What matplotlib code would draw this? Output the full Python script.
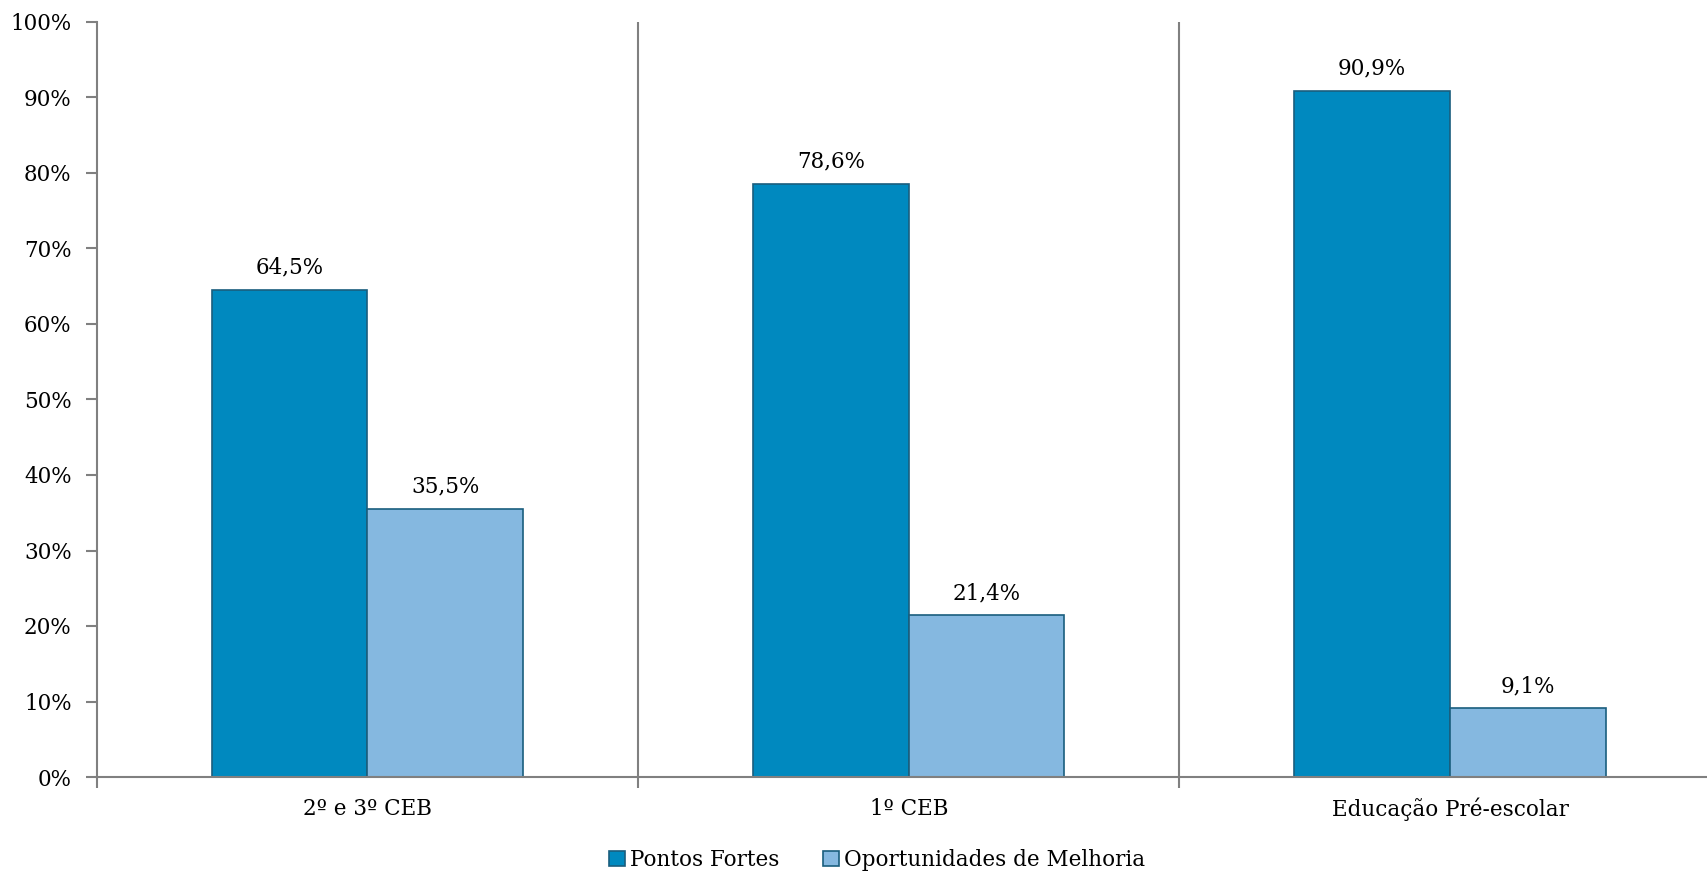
import matplotlib
matplotlib.use("Agg")
import matplotlib.pyplot as plt
import numpy as np

categories = ["2º e 3º CEB", "1º CEB", "Educação Pré-escolar"]
pontos_fortes = [64.5, 78.6, 90.9]
oportunidades = [35.5, 21.4, 9.1]
series_names = ["Pontos Fortes", "Oportunidades de Melhoria"]
y_ticks = list(range(0, 101, 10))

plt.rcParams['font.family'] = ['DejaVu Serif']
FS = 15.5

fig = plt.figure(figsize=(17.08, 8.74), dpi=100)
ax = fig.add_axes([96.7/1708, 97/874, (1720.7-96.7)/1708, (777-22)/874])

x = np.arange(len(categories))
w = 0.2875
dark = '#0089BF'
light = '#85B8E0'
edge = '#1A5E7E'
b1 = ax.bar(x - w/2, pontos_fortes, w, color=dark, edgecolor=edge, linewidth=1.2, label=series_names[0], zorder=3)
b2 = ax.bar(x + w/2, oportunidades, w, color=light, edgecolor=edge, linewidth=1.2, label=series_names[1], zorder=3)

for bars, vals in ((b1, pontos_fortes), (b2, oportunidades)):
    for r, v in zip(bars, vals):
        ax.annotate(f"{v:.1f}%".replace('.', ','), (r.get_x() + r.get_width()/2, v),
                    xytext=(0, 8), textcoords='offset points', ha='center', va='bottom', fontsize=FS)

ax.set_xlim(-0.5, len(categories) - 0.5)
ax.set_ylim(0, 100)
ax.set_yticks(y_ticks)
ax.set_yticklabels([f"{t}%" for t in y_ticks], fontsize=FS)

ax.set_xticks(np.arange(-0.5, len(categories), 1.0))
ax.set_xticklabels([])
ax.set_xticks(x, minor=True)
ax.set_xticklabels(categories, minor=True, fontsize=FS)
ax.tick_params(axis='x', which='minor', length=0, pad=15)
ax.tick_params(axis='x', which='major', length=8, width=1.5, color='#808080', direction='out')
ax.tick_params(axis='y', length=8, width=1.5, color='#808080', direction='out', pad=10)

for xv in np.arange(0.5, len(categories) - 0.5, 1.0):
    ax.axvline(xv, color='#808080', linewidth=1.5, zorder=1)

for s in ['top', 'right']:
    ax.spines[s].set_visible(False)
for s in ['left', 'bottom']:
    ax.spines[s].set_color('#808080')
    ax.spines[s].set_linewidth(1.5)
ax.spines['bottom'].set_zorder(4)

fig.legend(handles=[b1, b2], labels=series_names, loc='center', bbox_to_anchor=(877/1708, 1 - 860/874),
           ncol=2, frameon=False, fontsize=FS, handlelength=0.75, handleheight=0.75,
           handletextpad=0.25, columnspacing=2.0, borderaxespad=0)

fig.savefig('out.png', dpi=100)
